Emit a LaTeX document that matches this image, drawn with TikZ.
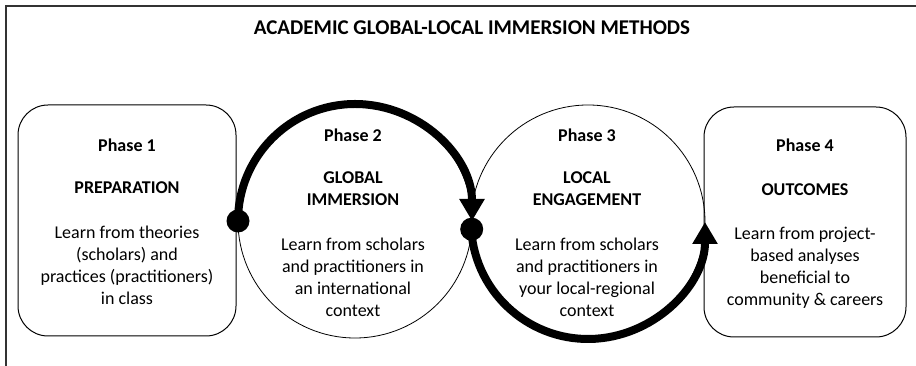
\documentclass[tikz,border=0pt]{standalone}
\usepackage{fontspec}
\setmainfont{Carlito}
\usetikzlibrary{arrows.meta}

\begin{document}
\begin{tikzpicture}[x=1pt, y=1pt,
    phasebox/.style={draw, rounded corners=30pt, line width=1pt, inner sep=0pt, outer sep=0pt},
    phaseround/.style={draw, circle, line width=0.8pt, minimum size=234pt, inner sep=0pt, outer sep=0pt},
    flow/.style={line width=8pt, -{Triangle[width=24pt, length=22pt]}},
    joint/.style={circle, fill, inner sep=0pt, minimum size=23pt},
    phasetext/.style={align=center, font=\fontsize{18}{22}\selectfont},
    phasehead/.style={align=center, font=\bfseries\fontsize{18}{22}\selectfont}]
  \useasboundingbox (0,0) rectangle (916,366);
  % frame and title
  \draw[line width=1.5pt, black!80] (6,0) -- (6,360) -- (916,360);
  \node[font=\bfseries\fontsize{21}{25}\selectfont] (title) at (472,338) {ACADEMIC GLOBAL-LOCAL IMMERSION METHODS};
  % phase shapes
  \node[phasebox, minimum width=218pt, minimum height=231pt] (p1) at (127,145.5) {};
  \node[phaseround] (p2) at (355,145) {};
  \node[phaseround] (p3) at (588,144) {};
  \node[phasebox, minimum width=202pt, minimum height=230pt] (p4) at (805,144) {};
  % cycle arrows
  \draw[flow] (p2.west) arc[start angle=180, end angle=0, radius=117];
  \draw[flow] (p3.184) arc[start angle=184, end angle=360, radius=117];
  \node[joint] (j1) at (p2.west) {};
  \node[joint] (j2) at (p2.-4) {};
  % texts
  \node[phasehead] (h1) at (127,221) {Phase 1};
  \node[phasehead] (n1) at (127,178) {PREPARATION};
  \node[phasetext] (t1) at (127,100.5) {Learn from theories\\(scholars) and\\practices (practitioners)\\in class};
  \node[phasehead] (h2) at (353,231) {Phase 2};
  \node[phasehead] (n2) at (353,177) {GLOBAL\\IMMERSION};
  \node[phasetext] (t2) at (353,88.5) {Learn from scholars\\and practitioners in\\an international\\context};
  \node[phasehead] (h3) at (587,231) {Phase 3};
  \node[phasehead] (n3) at (587,177) {LOCAL\\ENGAGEMENT};
  \node[phasetext] (t3) at (587,88.5) {Learn from scholars\\and practitioners in\\your local-regional\\context};
  \node[phasehead] (h4) at (805,221) {Phase 4};
  \node[phasehead] (n4) at (805,176) {OUTCOMES};
  \node[phasetext] (t4) at (805,98.5) {Learn from project-\\based analyses\\beneficial to\\community \& careers};
\end{tikzpicture}
\end{document}
